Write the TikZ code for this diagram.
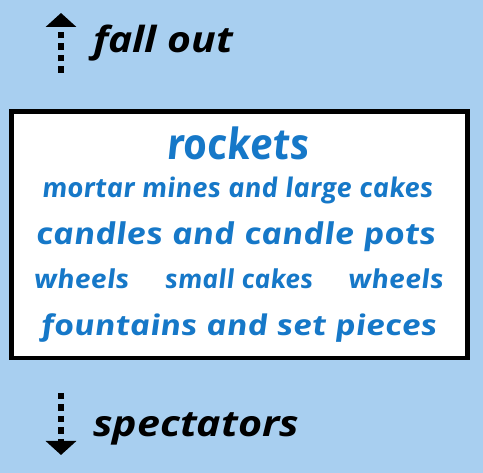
\documentclass[tikz,border=0pt]{standalone}
\usepackage{fontspec}
\usepackage{graphicx}
\setmainfont{Open Sans}
\newfontfamily\bluefont{Open Sans}[UprightFont={* Bold Italic}, BoldFont={* Bold Italic}, FakeSlant=-0.1]
\usetikzlibrary{arrows.meta}
\definecolor{skybg}{RGB}{168,207,240}
\definecolor{fwblue}{RGB}{22,120,200}
\newcommand{\fitw}[2]{\resizebox{#1}{\height}{#2}}
\tikzset{
  bluetxt/.style={anchor=base, inner sep=0pt, text=fwblue},
  blacktxt/.style={anchor=base west, inner sep=0pt, text=black, font=\bfseries\itshape\fontsize{36}{40}\selectfont},
  dasharrow/.style={line width=5.5pt, dash pattern=on 6.5pt off 5pt, -{Triangle[width=30pt,length=14pt]}},
  framebox/.style={draw=black, line width=4.6pt, fill=white, minimum width=456.2pt, minimum height=246.5pt, inner sep=0pt}
}
\begin{document}
\begin{tikzpicture}[x=1pt,y=-1pt]
\useasboundingbox (0,0) rectangle (483,473);
\fill[skybg] (0,0) rectangle (483,473);
\node[framebox] (box) at (239.6,234.75) {};
\node[bluetxt, font=\bluefont\fontsize{43}{48}\selectfont] (rockets) at (239.7,159.3) {\fitw{143pt}{rockets}};
\node[bluetxt, font=\bluefont\fontsize{27}{30}\selectfont] (mortar) at (238.5,197.3) {\fitw{391pt}{mortar mines and large cakes}};
\node[bluetxt, font=\bluefont\fontsize{30}{34}\selectfont] (candles) at (237.2,244.3) {\fitw{400pt}{candles and candle pots}};
\node[bluetxt, font=\bluefont\fontsize{26}{30}\selectfont] (wheelsA) at (82.7,288.7) {\fitw{95pt}{wheels}};
\node[bluetxt, font=\bluefont\fontsize{26}{30}\selectfont] (smallcakes) at (240,288.7) {\fitw{148pt}{small cakes}};
\node[bluetxt, font=\bluefont\fontsize{26}{30}\selectfont] (wheelsB) at (397,288.7) {\fitw{95pt}{wheels}};
\node[bluetxt, font=\bluefont\fontsize{28.5}{32}\selectfont] (fountains) at (240.3,336) {\fitw{396pt}{fountains and set pieces}};
\node[blacktxt] (fallout) at (93,53) {\fitw{140pt}{fall out}};
\node[blacktxt] (spectators) at (93,437) {\fitw{206pt}{spectators}};
\coordinate (upstart) at (61,73);
\coordinate (uptip) at (61,13);
\coordinate (downstart) at (61,393);
\coordinate (downtip) at (61,455);
\draw[dasharrow] (upstart) -- (uptip);
\draw[dasharrow] (downstart) -- (downtip);
\end{tikzpicture}
\end{document}
